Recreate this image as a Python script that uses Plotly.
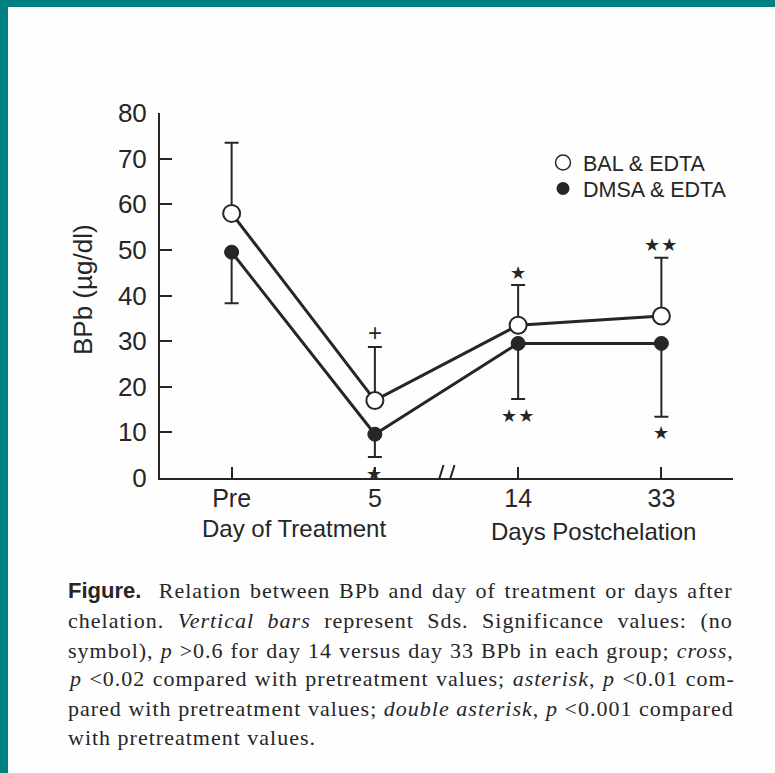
import plotly.graph_objects as go

# ---------------- data ----------------
days = ["Pre", "5", "14", "33"]
bal_mean = [58.0, 17.0, 33.5, 35.5]
bal_sd_up = [15.5, 11.7, 8.8, 12.8]
dmsa_mean = [49.5, 9.6, 29.5, 29.5]
dmsa_sd_down = [11.2, 5.0, 12.2, 16.1]
bal_sig = ["", "+", "★", "★★"]
dmsa_sig = ["", "★", "★★", "★"]
y_ticks = [0, 10, 20, 30, 40, 50, 60, 70, 80]
series_names = ["BAL & EDTA", "DMSA & EDTA"]
caption_lines = [
    "<span style='font-family:Liberation Sans;font-weight:bold;letter-spacing:0px'>Figure.</span>  Relation between BPb and day of treatment or days after",
    "chelation. <i>Vertical bars</i> represent Sds. Significance values: (no",
    "symbol), <i>p</i> >0.6 for day 14 versus day 33 BPb in each group; <i>cross</i>,",
    "<i>p</i> <0.02 compared with pretreatment values; <i>asterisk</i>, <i>p</i> <0.01 com-",
    "pared with pretreatment values; <i>double asterisk</i>, <i>p</i> <0.001 compared",
    "with pretreatment values.",
]
caption_word_spacing = [2.2, 7, 0.5, 0.9, 0.1, 0]

# ---------------- layout constants ----------------
W, H = 775, 773
L, R, T, B = 160, 42, 113, 295
PW, PH = W - L - R, H - T - B
INK = "#262626"
TEAL = "#008080"
BG = "#fefefe"
SANS = "Liberation Sans, Arial, sans-serif"
SERIF = "Liberation Serif, Times New Roman, serif"
STAR = "DejaVu Sans"

fig = go.Figure()

fig.add_trace(go.Scatter(
    x=days, y=bal_mean, mode="lines+markers", name=series_names[0], showlegend=False,
    line=dict(color=INK, width=3),
    marker=dict(symbol="circle", size=17, color="white", line=dict(color=INK, width=2)),
    error_y=dict(type="data", symmetric=False, array=bal_sd_up, arrayminus=[0] * len(days),
                 color=INK, thickness=2, width=7),
))
fig.add_trace(go.Scatter(
    x=days, y=dmsa_mean, mode="lines+markers", name=series_names[1], showlegend=False,
    line=dict(color=INK, width=3),
    marker=dict(symbol="circle", size=14, color=INK, line=dict(color=INK, width=1)),
    error_y=dict(type="data", symmetric=False, array=[0] * len(days), arrayminus=dmsa_sd_down,
                 color=INK, thickness=2, width=7),
))
# legend-only entries (markers only), one legend each so rows can be placed exactly
fig.add_trace(go.Scatter(x=[None], y=[None], mode="markers", name=series_names[0], legend="legend",
                         marker=dict(symbol="circle", size=15, color="white", line=dict(color=INK, width=1.5))))
fig.add_trace(go.Scatter(x=[None], y=[None], mode="markers", name=series_names[1], legend="legend2",
                         marker=dict(symbol="circle", size=13, color=INK)))


def sig_text(lab):
    if lab == "+":
        return lab
    return "<span style='letter-spacing:1px'>%s</span>" % lab


annotations = []
# significance symbols
for i, (m, s, lab) in enumerate(zip(bal_mean, bal_sd_up, bal_sig)):
    if lab:
        plus = lab == "+"
        annotations.append(dict(x=i, y=m + s, xref="x", yref="y", text=sig_text(lab), showarrow=False,
                                yanchor="middle", yshift=15 if plus else 13,
                                font=dict(family=SANS if plus else STAR, size=24 if plus else 18, color=INK)))
for i, (m, s, lab) in enumerate(zip(dmsa_mean, dmsa_sd_down, dmsa_sig)):
    if lab:
        annotations.append(dict(x=i, y=m - s, xref="x", yref="y", text=sig_text(lab), showarrow=False,
                                yanchor="middle", yshift=-16,
                                font=dict(family=STAR, size=18, color=INK)))

# axis sub-titles
annotations.append(dict(x=(294 - L) / PW, y=0, xref="paper", yref="paper", yshift=-50, text="Day of Treatment",
                        showarrow=False, xanchor="center", yanchor="middle", font=dict(family=SANS, size=24, color=INK)))
annotations.append(dict(x=(593 - L) / PW, y=0, xref="paper", yref="paper", yshift=-53, text="Days Postchelation",
                        showarrow=False, xanchor="center", yanchor="middle", font=dict(family=SANS, size=24, color=INK)))
# y title
annotations.append(dict(x=0, y=(H - B - 290) / PH, xref="paper", yref="paper", xshift=-(L - 83), text="BPb (µg/dl)",
                        textangle=-90, showarrow=False, xanchor="center", yanchor="middle",
                        font=dict(family=SANS, size=26, color=INK)))
# caption (justified via per-line word spacing)
cap_y = [590, 620, 650, 678, 708, 737]
for line, ws, py in zip(caption_lines, caption_word_spacing, cap_y):
    txt = "<span style='letter-spacing:1px;word-spacing:%spx'>%s</span>" % (ws, line)
    annotations.append(dict(x=(66 - L) / PW, y=(H - B - py) / PH, xref="paper", yref="paper", text=txt,
                            showarrow=False, xanchor="left", yanchor="middle", align="left",
                            font=dict(family=SERIF, size=22, color=INK)))

shapes = []
# axis break marks
brk = (1 + 2) / 2
shapes.append(dict(type="rect", xref="x", yref="y", xsizemode="pixel", ysizemode="pixel", xanchor=brk, yanchor=0,
                   x0=-3, x1=3, y0=-2, y1=2, fillcolor=BG, line=dict(width=0)))
for off in (-7, 4):
    shapes.append(dict(type="line", xref="x", yref="y", xsizemode="pixel", ysizemode="pixel", xanchor=brk, yanchor=0,
                       x0=off - 4, x1=off + 4, y0=-13, y1=13, line=dict(color=INK, width=2)))
# teal frame (scan border)
shapes.append(dict(type="rect", xref="paper", yref="paper", x0=-L / PW, x1=(W - L) / PW,
                   y0=(H - B - 7) / PH, y1=(H - B) / PH, fillcolor=TEAL, line=dict(width=0), layer="above"))
shapes.append(dict(type="rect", xref="paper", yref="paper", x0=-L / PW, x1=(8 - L) / PW,
                   y0=-B / PH, y1=(H - B) / PH, fillcolor=TEAL, line=dict(width=0), layer="above"))

leg_common = dict(xanchor="left", yanchor="top", bgcolor="rgba(0,0,0,0)",
                  font=dict(family=SANS, size=21.5, color=INK), itemwidth=30)
fig.update_layout(
    width=W, height=H,
    margin=dict(l=L, r=R, t=T, b=B, autoexpand=False),
    paper_bgcolor=BG, plot_bgcolor=BG,
    font=dict(family=SANS, color=INK),
    showlegend=True,
    legend=dict(x=(543 - L) / PW, y=(H - B - 142) / PH, **leg_common),
    legend2=dict(x=(543 - L) / PW, y=(H - B - 168) / PH, **leg_common),
    xaxis=dict(type="category", range=[-0.5, 3.5], showline=True, linecolor=INK, linewidth=2,
               ticks="inside", ticklen=11, tickwidth=2, tickcolor=INK, showgrid=False, zeroline=False,
               tickfont=dict(family=SANS, size=25, color=INK), ticklabelstandoff=-3),
    yaxis=dict(range=[0, 80], tickvals=y_ticks, showline=True, linecolor=INK, linewidth=2,
               ticks="inside", ticklen=12, tickwidth=2, tickcolor=INK, showgrid=False, zeroline=False,
               tickfont=dict(family=SANS, size=26, color=INK), ticklabelstandoff=6),
    annotations=annotations, shapes=shapes,
)

fig.write_html("out.html", config={"displayModeBar": False},
               post_script="document.body.style.margin='0px';")
